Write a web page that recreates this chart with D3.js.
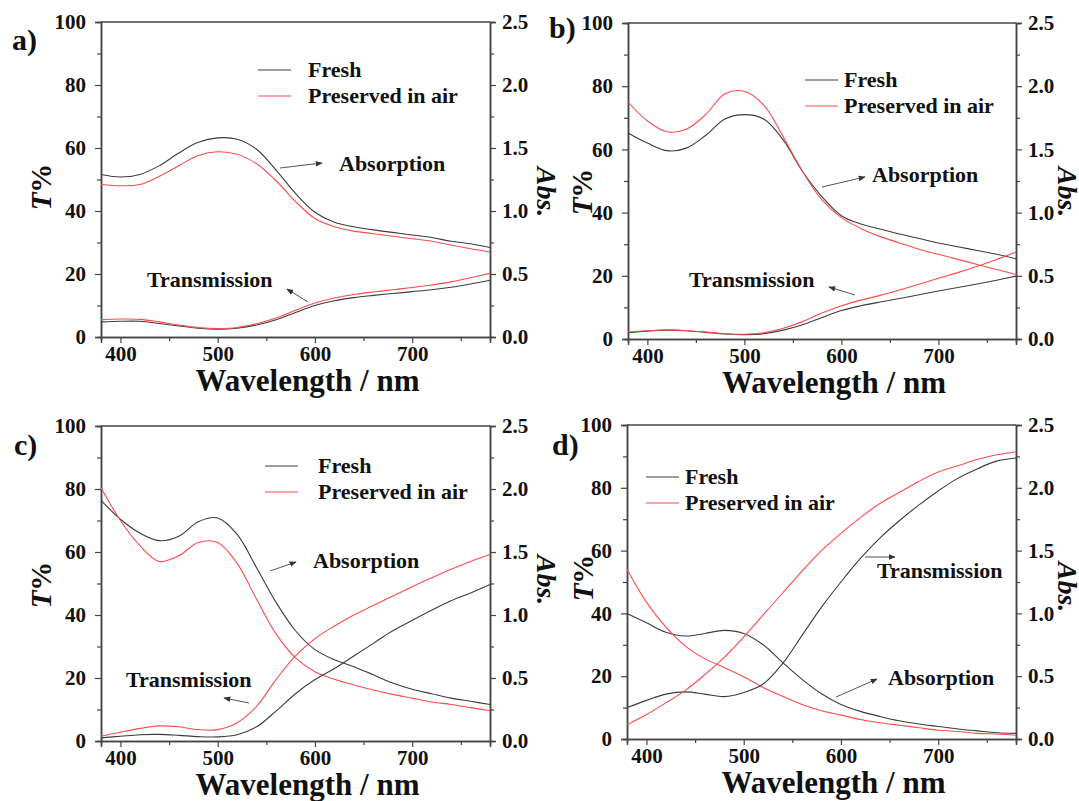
<!DOCTYPE html>
<html>
<head>
<meta charset="utf-8">
<script src="https://cdn.jsdelivr.net/npm/d3@7"></script>
<style>
  body { margin: 0; background: #fff; }
  text { font-family: "Liberation Serif", "Times New Roman", serif; font-weight: bold; fill: #111; }
</style>
</head>
<body>
<svg id="chart" width="1079" height="801"></svg>
<script>
// wavelength grid (nm) shared by every curve
const wl = [380, 400, 420, 440, 460, 480, 500, 520, 540, 560, 580, 600, 620, 640, 660, 680, 700, 720, 740, 760, 780];

// absorption in Abs. units, transmission in T%
const absFreshA = [1.29, 1.27, 1.29, 1.36, 1.46, 1.545, 1.58, 1.57, 1.49, 1.325, 1.14, 0.99, 0.91, 0.875, 0.85, 0.83, 0.81, 0.79, 0.76, 0.74, 0.71];
const absAirA   = [1.21, 1.20, 1.21, 1.275, 1.36, 1.44, 1.47, 1.45, 1.375, 1.24, 1.075, 0.94, 0.875, 0.84, 0.82, 0.80, 0.78, 0.76, 0.73, 0.70, 0.675];
const trFreshA  = [4.8, 5, 5, 4.3, 3.5, 2.8, 2.5, 2.8, 3.8, 5.5, 7.8, 10, 11.5, 12.5, 13.2, 13.8, 14.4, 15, 15.8, 16.8, 18];
const trAirA    = [5.5, 5.7, 5.6, 4.8, 3.8, 3, 2.7, 3, 4.2, 6, 8.5, 10.8, 12.4, 13.5, 14.3, 15, 15.7, 16.5, 17.5, 18.8, 20.2];

const absFreshB = [1.63, 1.55, 1.49, 1.51, 1.61, 1.74, 1.775, 1.74, 1.575, 1.325, 1.125, 0.975, 0.91, 0.87, 0.83, 0.795, 0.76, 0.73, 0.70, 0.67, 0.635];
const absAirB   = [1.875, 1.725, 1.64, 1.66, 1.775, 1.94, 1.96, 1.85, 1.6, 1.325, 1.1, 0.96, 0.875, 0.81, 0.76, 0.71, 0.67, 0.63, 0.59, 0.55, 0.51];
const trFreshB  = [2, 2.5, 2.8, 2.6, 2.1, 1.6, 1.4, 1.7, 2.8, 4.5, 6.8, 9, 10.5, 11.7, 12.8, 14, 15.2, 16.3, 17.4, 18.6, 19.9];
const trAirB    = [2.2, 2.6, 2.9, 2.7, 2.2, 1.7, 1.5, 2, 3.4, 5.5, 8.2, 10.5, 12.3, 13.8, 15.5, 17.3, 19.2, 21, 23, 25.2, 27.5];

const absFreshC = [1.91, 1.76, 1.65, 1.59, 1.625, 1.74, 1.77, 1.64, 1.375, 1.10, 0.875, 0.725, 0.645, 0.59, 0.525, 0.46, 0.41, 0.375, 0.34, 0.315, 0.29];
const absAirC   = [2.01, 1.75, 1.55, 1.425, 1.47, 1.575, 1.575, 1.41, 1.125, 0.85, 0.66, 0.55, 0.49, 0.445, 0.405, 0.37, 0.34, 0.31, 0.29, 0.265, 0.24];
const trFreshC  = [1, 1.5, 2, 2.1, 1.8, 1.4, 1.3, 2, 4.5, 9.5, 15, 19.5, 23, 27, 31, 35, 38.3, 41.5, 44.5, 47, 49.7];
const trAirC    = [1.5, 2.8, 4, 4.8, 4.5, 3.6, 3.6, 5.8, 11, 19.5, 27, 32.5, 36.5, 40, 43, 46, 49, 51.8, 54.5, 57, 59.2];

const absFreshD = [1.0, 0.925, 0.85, 0.82, 0.84, 0.865, 0.84, 0.75, 0.61, 0.475, 0.36, 0.275, 0.22, 0.18, 0.145, 0.12, 0.10, 0.08, 0.065, 0.05, 0.045];
const absAirD   = [1.35, 1.09, 0.89, 0.74, 0.64, 0.57, 0.495, 0.41, 0.34, 0.275, 0.225, 0.19, 0.155, 0.13, 0.11, 0.09, 0.07, 0.06, 0.045, 0.04, 0.03];
const trFreshD  = [10, 12.3, 14.3, 15, 14.3, 13.5, 14.8, 17.5, 24, 33, 42, 50, 57.5, 64, 69.5, 74.5, 79, 83, 86, 88.5, 89.5];
const trAirD    = [4.5, 7.8, 11.5, 15.5, 20.5, 26, 32.5, 39.5, 46.5, 53.5, 60, 65.5, 70.5, 75, 78.5, 82, 85, 87, 89, 90.5, 91.5];

const xTicks = [400, 500, 600, 700];
const tTicks = [0, 20, 40, 60, 80, 100];
const absTicks = [0.0, 0.5, 1.0, 1.5, 2.0, 2.5];
const legendLabels = ['Fresh', 'Preserved in air'];

const FRESH = '#3c3c3c', AIR = '#ff4a4a', AXIS = '#444';

const panels = [
  { tag: 'a)', x0: 101, x1: 490, y0: 22, y1: 337, abs: [absFreshA, absAirA], tr: [trFreshA, trAirA],
    tagPos: [12, 50], tLab: [51, 187], absLab: [537, 192],
    legend: [258, 70], legendText: 308,
    absText: [339, 171], absArrow: [280, 168, 322, 163],
    trText: [147, 287], trArrow: [308, 302, 287, 289] },
  { tag: 'b)', x0: 628, x1: 1016, y0: 23, y1: 339, abs: [absFreshB, absAirB], tr: [trFreshB, trAirB],
    tagPos: [549, 38], tLab: [592, 192], absLab: [1058, 192],
    legend: [805, 80], legendText: 844,
    absText: [872, 182], absArrow: [822, 187, 865, 177],
    trText: [689, 287], trArrow: [855, 295, 829, 287] },
  { tag: 'c)', x0: 101, x1: 490, y0: 426, y1: 741, abs: [absFreshC, absAirC], tr: [trFreshC, trAirC],
    tagPos: [14, 455], tLab: [51, 585], absLab: [537, 580],
    legend: [265, 466], legendText: 318,
    absText: [313, 568], absArrow: [270, 571, 296, 562],
    trText: [126, 687], trArrow: [249, 703, 224, 698] },
  { tag: 'd)', x0: 627, x1: 1016, y0: 425, y1: 739, abs: [absFreshD, absAirD], tr: [trFreshD, trAirD],
    tagPos: [552, 455], tLab: [593, 578], absLab: [1058, 587],
    legend: [646, 477], legendText: 685,
    absText: [888, 685], absArrow: [836, 697, 877, 679],
    trText: [877, 578], trArrow: [865, 557, 895, 557] }
];

const svg = d3.select('#chart');

svg.append('defs').append('marker')
  .attr('id', 'head')
  .attr('viewBox', '0 0 10 10')
  .attr('refX', 9).attr('refY', 5)
  .attr('markerWidth', 7).attr('markerHeight', 7)
  .attr('markerUnits', 'userSpaceOnUse')
  .attr('orient', 'auto')
  .append('path')
  .attr('d', 'M0,1 L10,5 L0,9 Z')
  .attr('fill', '#333');

function drawPanel(p) {
  const g = svg.append('g');
  const x = d3.scaleLinear().domain([380, 780]).range([p.x0, p.x1]);
  const yT = d3.scaleLinear().domain([0, 100]).range([p.y1, p.y0]);
  const yA = d3.scaleLinear().domain([0, 2.5]).range([p.y1, p.y0]);

  // frame top line (no ticks)
  g.append('line')
    .attr('x1', p.x0).attr('x2', p.x1)
    .attr('y1', p.y0).attr('y2', p.y0)
    .attr('stroke', AXIS).attr('stroke-width', 1.5);

  // minor ticks first, then major with labels
  const bottomMinor = g.append('g').attr('transform', `translate(0,${p.y1})`)
    .call(d3.axisBottom(x).tickValues([450, 550, 650, 750]).tickSize(4).tickFormat(''));
  const bottom = g.append('g').attr('transform', `translate(0,${p.y1})`)
    .call(d3.axisBottom(x).tickValues(xTicks).tickSize(6).tickPadding(4));
  const leftMinor = g.append('g').attr('transform', `translate(${p.x0},0)`)
    .call(d3.axisLeft(yT).tickValues([10, 30, 50, 70, 90]).tickSize(4).tickFormat(''));
  const left = g.append('g').attr('transform', `translate(${p.x0},0)`)
    .call(d3.axisLeft(yT).tickValues(tTicks).tickSize(6).tickPadding(9));
  const rightMinor = g.append('g').attr('transform', `translate(${p.x1},0)`)
    .call(d3.axisRight(yA).tickValues([0.25, 0.75, 1.25, 1.75, 2.25]).tickSize(4).tickFormat(''));
  const right = g.append('g').attr('transform', `translate(${p.x1},0)`)
    .call(d3.axisRight(yA).tickValues(absTicks).tickSize(6).tickPadding(6).tickFormat(d3.format('.1f')));

  [bottomMinor, bottom, leftMinor, left, rightMinor, right].forEach(a => {
    a.select('.domain').attr('stroke', AXIS).attr('stroke-width', 1.5);
    a.selectAll('.tick line').attr('stroke', AXIS).attr('stroke-width', 1.2);
    a.selectAll('text')
      .attr('font-family', '"Liberation Serif", serif')
      .attr('font-weight', 'bold')
      .attr('font-size', 21)
      .attr('fill', '#111');
  });
  bottom.selectAll('text').attr('dy', '0.68em');

  // curves
  const absLine = d3.line().x((d, i) => x(wl[i])).y(d => yA(d)).curve(d3.curveCatmullRom);
  const trLine = d3.line().x((d, i) => x(wl[i])).y(d => yT(d)).curve(d3.curveCatmullRom);
  const colors = [FRESH, AIR];
  p.abs.forEach((s, k) => {
    g.append('path').attr('d', absLine(s)).attr('fill', 'none')
      .attr('stroke', colors[k]).attr('stroke-width', 1.1);
  });
  p.tr.forEach((s, k) => {
    g.append('path').attr('d', trLine(s)).attr('fill', 'none')
      .attr('stroke', colors[k]).attr('stroke-width', 1.1);
  });

  // legend
  legendLabels.forEach((lab, k) => {
    const ly = p.legend[1] + k * 26;
    g.append('line')
      .attr('x1', p.legend[0]).attr('x2', p.legend[0] + 33)
      .attr('y1', ly).attr('y2', ly)
      .attr('stroke', colors[k]).attr('stroke-width', 1.1);
    g.append('text')
      .attr('x', p.legendText).attr('y', ly + 7)
      .attr('font-size', 22)
      .text(lab);
  });

  // annotations
  g.append('text').attr('x', p.absText[0]).attr('y', p.absText[1]).attr('font-size', 22).text('Absorption');
  g.append('text').attr('x', p.trText[0]).attr('y', p.trText[1]).attr('font-size', 22).text('Transmission');
  [p.absArrow, p.trArrow].forEach(a => {
    g.append('line')
      .attr('x1', a[0]).attr('y1', a[1]).attr('x2', a[2]).attr('y2', a[3])
      .attr('stroke', '#555').attr('stroke-width', 1)
      .attr('marker-end', 'url(#head)');
  });

  // axis titles
  g.append('text')
    .attr('x', (p.x0 + p.x1) / 2 + 12).attr('y', p.y1 + 54)
    .attr('text-anchor', 'middle')
    .attr('font-size', 31)
    .text('Wavelength / nm');

  const tl = g.append('text')
    .attr('transform', `translate(${p.tLab[0]},${p.tLab[1]}) rotate(-90)`)
    .attr('text-anchor', 'middle')
    .attr('font-size', 29);
  tl.append('tspan').attr('font-style', 'italic').text('T');
  tl.append('tspan').text('%');

  g.append('text')
    .attr('transform', `translate(${p.absLab[0]},${p.absLab[1]}) rotate(90)`)
    .attr('text-anchor', 'middle')
    .attr('font-size', 28)
    .attr('font-style', 'italic')
    .text('Abs.');

  g.append('text')
    .attr('x', p.tagPos[0]).attr('y', p.tagPos[1])
    .attr('font-size', 30)
    .text(p.tag);
}

panels.forEach(drawPanel);
</script>
</body>
</html>
